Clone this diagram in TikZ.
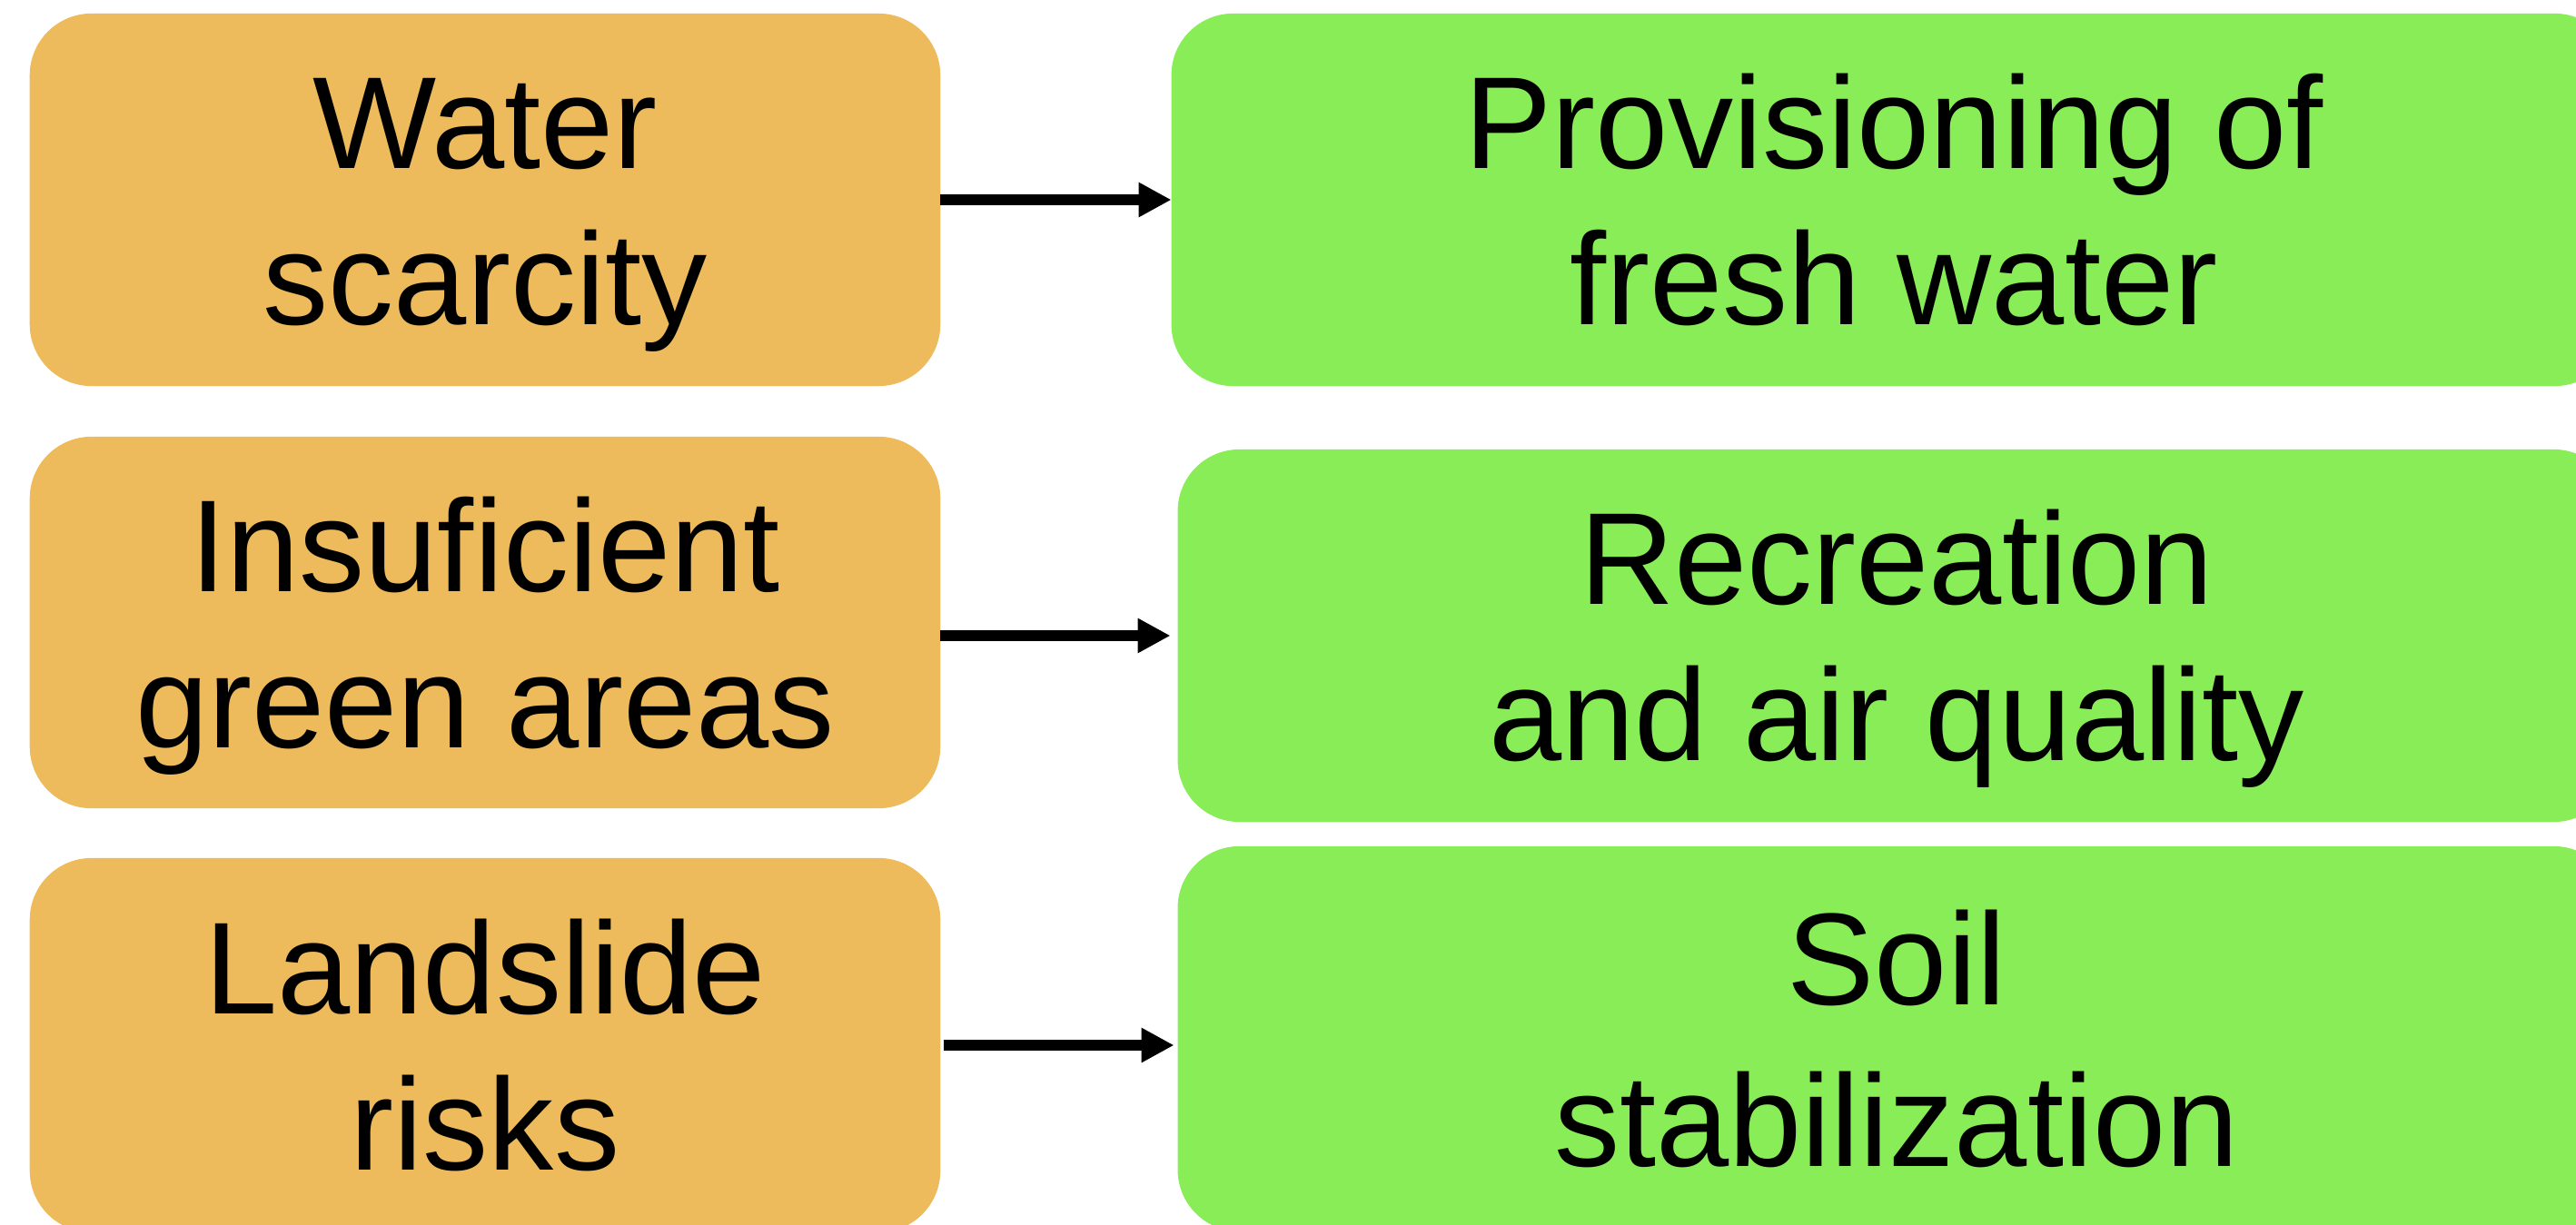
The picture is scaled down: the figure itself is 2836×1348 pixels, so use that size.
\documentclass[tikz,border=0pt]{standalone}
\usepackage{fontspec}
\setmainfont{Liberation Sans}
\usetikzlibrary{arrows.meta}
\definecolor{boxorange}{RGB}{237,187,92}
\definecolor{boxgreen}{RGB}{137,237,88}
% two centred lines; box spans cap top of line 1 to baseline of line 2
\newcommand\twoline[2]{\raisebox{0pt}[\dimexpr\baselineskip+1.03cm\relax][0pt]{\vbox{\hbox to 0pt{\hss #1\hss}\hbox to 0pt{\hss #2\hss}}}}
\tikzset{
  problem/.style={rectangle, rounded corners=0.68cm, fill=boxorange, draw=none,
    inner sep=0pt, outer sep=0pt, minimum width=10.02cm,
    font=\fontsize{41}{48.9}\selectfont},
  service/.style={rectangle, rounded corners=0.68cm, fill=boxgreen, draw=none,
    inner sep=0pt, outer sep=0pt, minimum width=15.90cm,
    font=\fontsize{41}{48.9}\selectfont},
  conn/.style={line width=0.12cm, -{Triangle[length=0.36cm, width=0.36cm]}}
}
\begin{document}
\begin{tikzpicture}[x=0.01cm, y=-0.01cm]
\useasboundingbox (0,0) rectangle (2836,1348);
\clip (0,0) rectangle (2836,1348);
\node[problem, minimum height=4.10cm] (o1) at (534,220) {\twoline{Water}{scarcity}};
\node[problem, minimum height=4.09cm] (o2) at (534,685.5) {\twoline{Insuficient}{green areas}};
\node[problem, minimum height=4.12cm] (o3) at (534,1151) {\twoline{Landslide}{risks}};
\node[service, minimum height=4.10cm] (g1) at (2085,220) {\twoline{Provisioning of}{fresh water}};
\node[service, minimum width=15.82cm, minimum height=4.10cm] (g2) at (2088,700) {\twoline{Recreation}{and air quality}};
\node[service, minimum width=15.82cm, minimum height=4.24cm, font=\fontsize{41}{50.6}\selectfont] (g3) at (2088,1144) {\twoline{Soil}{stabilization}};
\draw[conn] (o1.east) -- (g1.west);
\draw[conn, shorten >=0.08cm] (o2.east |- g2.west) -- (g2.west);
\draw[conn, shorten <=0.04cm, shorten >=0.04cm] (o3.east) -- (o3.east -| g3.west);
\end{tikzpicture}
\end{document}
